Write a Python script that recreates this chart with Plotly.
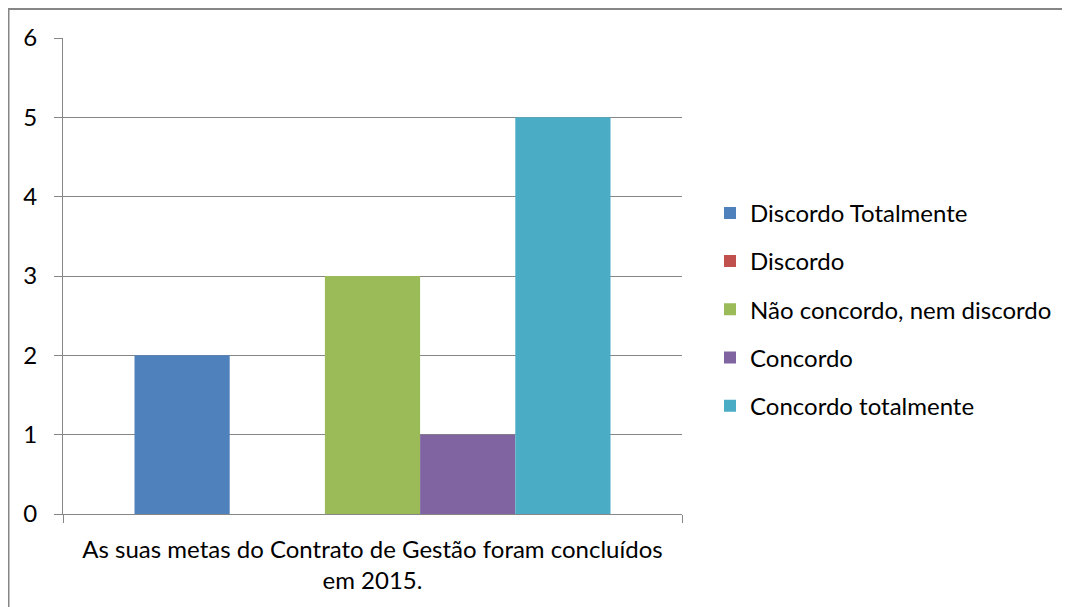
import plotly.graph_objects as go

categories = ["As suas metas do Contrato de Gestão foram concluídos<br>em 2015."]
series_names = ["Discordo Totalmente", "Discordo", "Não concordo, nem discordo", "Concordo", "Concordo totalmente"]
series_values = [[2], [0], [3], [1], [5]]
colors = ["#4F81BD", "#C0504D", "#9BBB59", "#8064A2", "#4BACC6"]
y_ticks = [0, 1, 2, 3, 4, 5, 6]

FONT = "Lato"
FS = 24
W, H = 1062, 599
L, R, T, B = 55, 388, 30, 93
PW, PH = W - L - R, H - T - B

fig = go.Figure()
for i, (name, vals, col) in enumerate(zip(series_names, series_values, colors)):
    fig.add_trace(go.Bar(
        x=categories, y=vals, name=name,
        marker=dict(color=col, line=dict(width=0)),
        legendgroup=f"g{i}",
    ))

fig.update_layout(
    width=W, height=H,
    margin=dict(l=L, r=R, t=T, b=B, autoexpand=False),
    paper_bgcolor="white", plot_bgcolor="white",
    barmode="group", bargap=0.231, bargroupgap=0,
    font=dict(family=FONT, size=FS, color="#000000"),
    showlegend=True,
    legend=dict(
        x=(702 - L) / PW, y=0.43, xanchor="left", yanchor="middle",
        traceorder="grouped", tracegroupgap=14,
        font=dict(family=FONT, size=FS, color="#000000"),
        itemwidth=30, bgcolor="rgba(0,0,0,0)",
    ),
    xaxis=dict(
        type="category", showgrid=False, showline=True, linecolor="#868686", linewidth=1,
        ticks="outside", tickson="boundaries", ticklen=8, tickcolor="#868686",
        tickfont=dict(family=FONT, size=FS, color="#000000"),
        ticklabelstandoff=14,
    ),
    yaxis=dict(
        range=[0, 6], tickvals=y_ticks, showgrid=True, gridcolor="#868686", gridwidth=1,
        showline=True, linecolor="#868686", linewidth=1,
        ticks="outside", ticklen=8, tickcolor="#868686",
        tickfont=dict(family=FONT, size=FS, color="#000000"),
        zeroline=False, ticklabelstandoff=12,
    ),
    shapes=[
        dict(type="line", xref="paper", yref="paper",
             x0=-L / PW, x1=(W - L) / PW, y0=(PH + T - 1) / PH, y1=(PH + T - 1) / PH,
             line=dict(color="#868686", width=2)),
        dict(type="line", xref="paper", yref="paper",
             x0=(-L + 0.5) / PW, x1=(-L + 0.5) / PW, y0=-B / PH, y1=(PH + T) / PH,
             line=dict(color="#868686", width=2)),
    ],
)

fig.write_html("out.html", config={"displayModeBar": False})
